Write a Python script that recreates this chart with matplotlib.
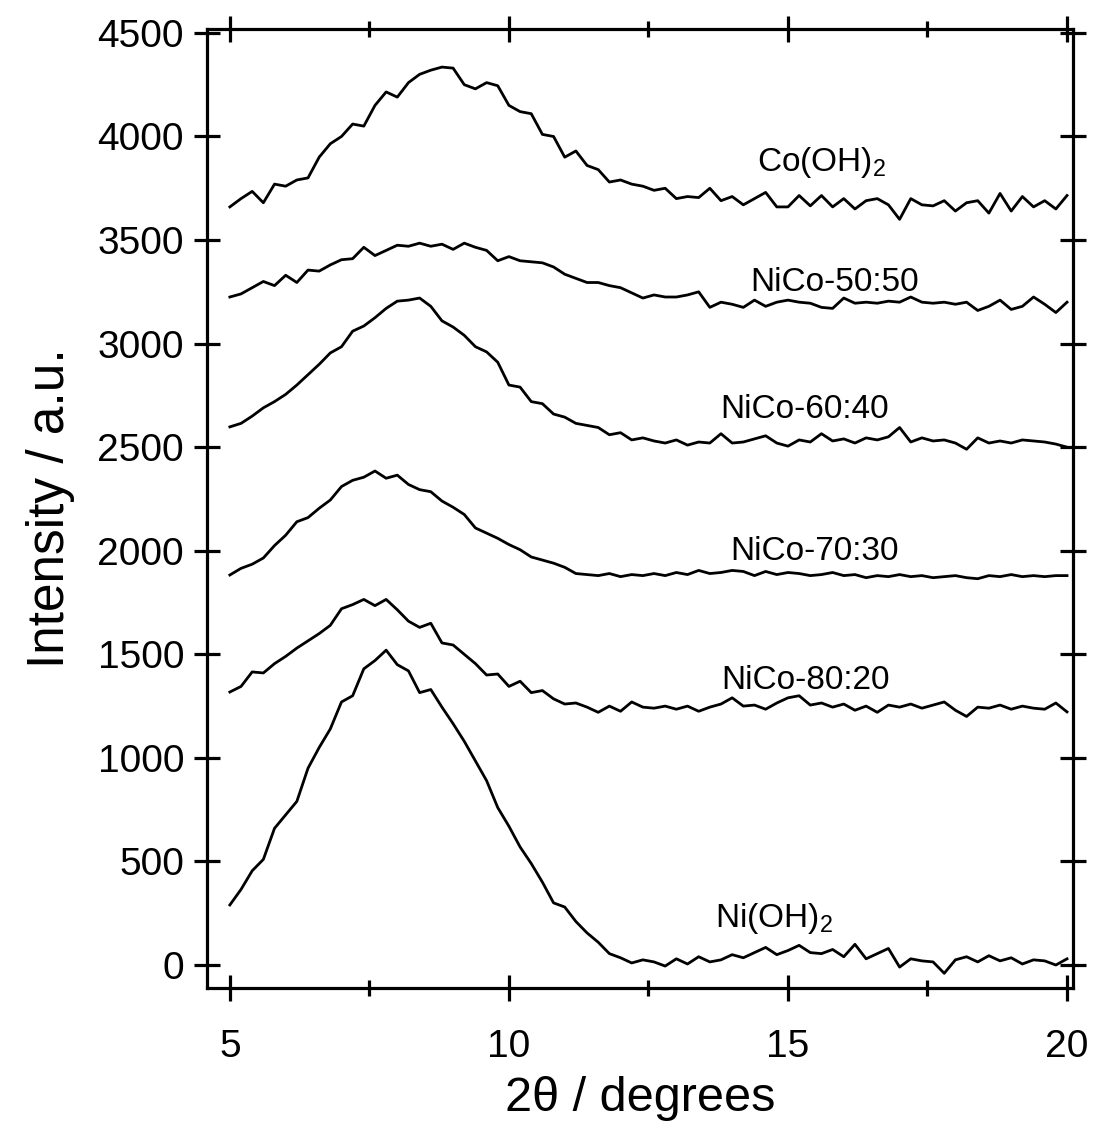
import numpy as np
import matplotlib
matplotlib.use('Agg')
import matplotlib.pyplot as plt
from matplotlib.ticker import MultipleLocator

plt.rcParams['font.family'] = ['Liberation Sans', 'DejaVu Sans']
plt.rcParams['mathtext.fontset'] = 'custom'
plt.rcParams['mathtext.rm'] = 'Liberation Sans'

# 2theta grid (degrees), one reading every 0.2 deg
two_theta = np.round(np.arange(5.0, 20.001, 0.2), 1)

co_oh2 = [3660, 3700, 3735, 3680, 3770, 3760, 3790, 3800, 3900, 3965,
          4000, 4060, 4050, 4150, 4215, 4190, 4260, 4300, 4320, 4335,
          4330, 4250, 4230, 4260, 4245, 4150, 4120, 4110, 4010, 4000,
          3900, 3930, 3860, 3840, 3780, 3790, 3770, 3760, 3740, 3750,
          3700, 3710, 3705, 3750, 3690, 3710, 3670, 3700, 3730, 3660,
          3660, 3715, 3665, 3715, 3660, 3700, 3650, 3690, 3700, 3670,
          3600, 3700, 3670, 3665, 3690, 3640, 3680, 3690, 3630, 3725,
          3640, 3710, 3660, 3690, 3650, 3715]

nico_50_50 = [3225, 3240, 3270, 3300, 3280, 3330, 3295, 3355, 3350, 3380,
              3405, 3410, 3465, 3425, 3450, 3475, 3470, 3485, 3470, 3480,
              3455, 3485, 3465, 3450, 3400, 3420, 3400, 3395, 3390, 3370,
              3335, 3315, 3295, 3295, 3280, 3270, 3245, 3220, 3235, 3225,
              3225, 3235, 3250, 3175, 3200, 3190, 3175, 3210, 3180, 3200,
              3210, 3200, 3195, 3175, 3170, 3220, 3195, 3200, 3195, 3205,
              3200, 3225, 3200, 3195, 3200, 3190, 3200, 3160, 3180, 3210,
              3165, 3180, 3225, 3190, 3150, 3200]

nico_60_40 = [2598, 2615, 2650, 2690, 2720, 2755, 2800, 2850, 2900, 2955,
              2985, 3060, 3085, 3125, 3170, 3205, 3210, 3220, 3180, 3110,
              3080, 3040, 2985, 2960, 2910, 2800, 2790, 2720, 2710, 2660,
              2645, 2615, 2605, 2595, 2560, 2570, 2535, 2545, 2530, 2520,
              2535, 2510, 2525, 2520, 2565, 2520, 2525, 2540, 2555, 2520,
              2505, 2535, 2525, 2565, 2530, 2540, 2520, 2545, 2535, 2550,
              2595, 2525, 2545, 2530, 2535, 2520, 2490, 2545, 2520, 2530,
              2520, 2535, 2530, 2525, 2515, 2500]

nico_70_30 = [1883, 1915, 1935, 1965, 2025, 2075, 2140, 2160, 2205, 2245,
              2310, 2340, 2355, 2385, 2350, 2365, 2320, 2295, 2285, 2240,
              2210, 2175, 2110, 2085, 2060, 2030, 2005, 1970, 1955, 1940,
              1920, 1890, 1885, 1880, 1890, 1875, 1885, 1880, 1890, 1880,
              1895, 1885, 1905, 1890, 1895, 1905, 1900, 1880, 1900, 1885,
              1895, 1890, 1880, 1885, 1895, 1880, 1885, 1870, 1880, 1875,
              1885, 1875, 1880, 1870, 1875, 1880, 1870, 1865, 1880, 1875,
              1885, 1875, 1880, 1875, 1880, 1880]

nico_80_20 = [1318, 1345, 1415, 1410, 1455, 1490, 1530, 1565, 1600, 1640,
              1720, 1740, 1765, 1735, 1765, 1715, 1660, 1630, 1650, 1555,
              1545, 1500, 1455, 1400, 1405, 1345, 1370, 1315, 1325, 1285,
              1260, 1265, 1245, 1220, 1250, 1225, 1270, 1245, 1240, 1250,
              1235, 1250, 1225, 1245, 1260, 1290, 1250, 1255, 1235, 1265,
              1290, 1300, 1255, 1265, 1245, 1260, 1230, 1250, 1220, 1255,
              1245, 1260, 1240, 1255, 1270, 1230, 1200, 1245, 1240, 1255,
              1235, 1250, 1240, 1235, 1265, 1222]

ni_oh2 = [290, 365, 455, 510, 660, 725, 790, 950, 1050, 1140,
          1270, 1300, 1430, 1470, 1520, 1450, 1420, 1315, 1330, 1245,
          1165, 1080, 985, 890, 760, 670, 570, 490, 400, 300,
          280, 210, 155, 110, 55, 35, 10, 25, 15, -5,
          30, 5, 40, 15, 25, 50, 35, 60, 85, 50,
          70, 95, 60, 55, 75, 40, 100, 30, 55, 80,
          -10, 30, 20, 15, -40, 25, 40, 15, 45, 20,
          35, 5, 25, 20, 0, 30]

series = [co_oh2, nico_50_50, nico_60_40, nico_70_30, nico_80_20, ni_oh2]
labels = ['Co(OH)$_2$', 'NiCo-50:50', 'NiCo-60:40', 'NiCo-70:30', 'NiCo-80:20', 'Ni(OH)$_2$']
label_x = [15.6, 15.84, 15.29, 15.48, 15.32, 14.75]
label_y = [3872, 3293, 2680, 1994, 1376, 227]

fig = plt.figure(figsize=(10.94, 11.23), dpi=100)
ax = fig.add_axes([0.1892, 0.1202, 0.7916, 0.8540])

for y in series:
    ax.plot(two_theta, y, color='black', lw=2.0)

for txt, lx, ly in zip(labels, label_x, label_y):
    ax.text(lx, ly, txt, fontsize=24, ha='center', va='center')

ax.set_xlim(4.59, 20.107)
ax.set_ylim(-111, 4519)
ax.xaxis.set_major_locator(MultipleLocator(5))
ax.xaxis.set_minor_locator(MultipleLocator(2.5))
ax.yaxis.set_major_locator(MultipleLocator(500))

for s in ax.spines.values():
    s.set_linewidth(2.3)
ax.tick_params(which='both', direction='inout', top=True, right=True, width=2.3)
ax.tick_params(which='major', length=19)
ax.tick_params(which='minor', length=12)
ax.tick_params(axis='x', which='major', labelsize=28, pad=20)
ax.tick_params(axis='y', which='major', labelsize=28, pad=7)

ax.set_xlabel('2θ / degrees', fontsize=35, labelpad=8)
ax.set_ylabel('Intensity / a.u.', fontsize=37, labelpad=16)

fig.savefig('out.png', dpi=100)
